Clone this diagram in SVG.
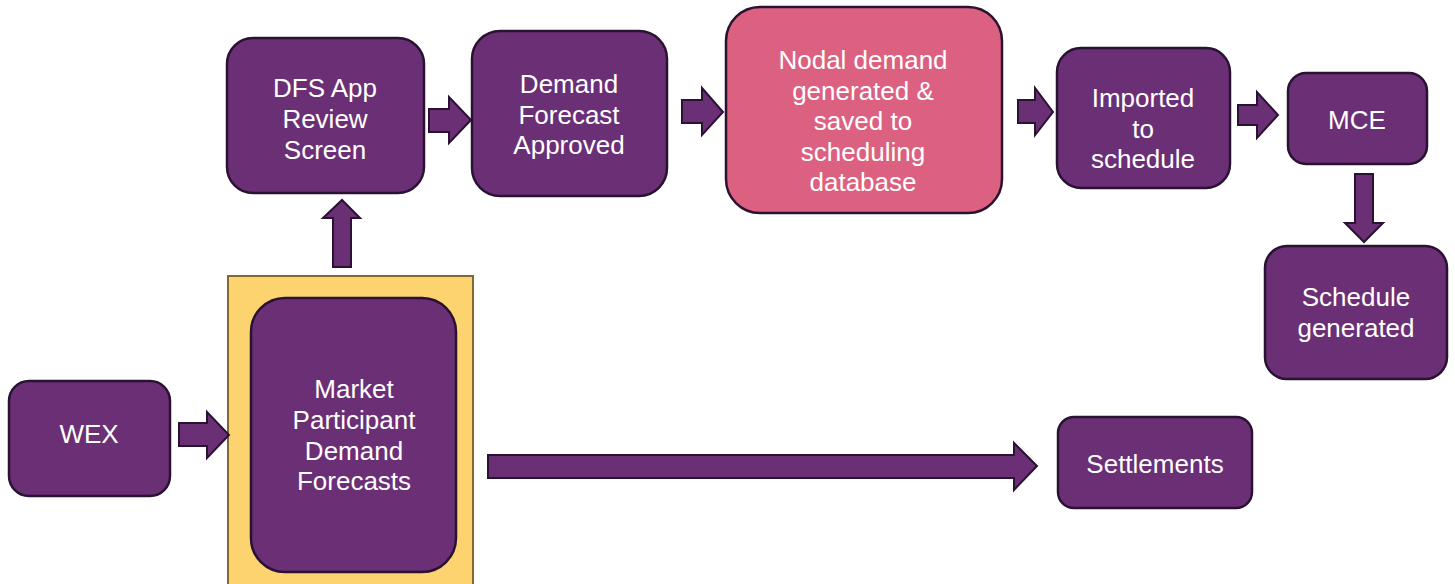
<svg xmlns="http://www.w3.org/2000/svg" width="1455" height="584" viewBox="0 0 1455 584">
<style>
.box{fill:#6B2F76;stroke:#2A1233;stroke-width:2.5}
.pink{fill:#DC6180;stroke:#2A1233;stroke-width:2.5}
.arr{fill:#6B2F76;stroke:#2A1233;stroke-width:2}
.t{font-family:"Liberation Sans",Arial,sans-serif;font-size:26px;fill:#ffffff;text-anchor:middle}
</style>
<rect x="0" y="0" width="1455" height="584" fill="#ffffff"/>
<g id="mp-frame"><rect x="228" y="276" width="245" height="312" fill="#FDD36F" stroke="#7F6A35" stroke-width="2"/></g>
<g id="connectors">
<polygon class="arr" points="429,109 449,109 449,97 471,120 449,143 449,132 429,132"/>
<polygon class="arr" points="682,100 702,100 702,88 723,112 702,135 702,123 682,123"/>
<polygon class="arr" points="1018,100 1035,100 1035,88 1053,112 1035,135 1035,123 1018,123"/>
<polygon class="arr" points="1238,105 1257,105 1257,92 1278,115 1257,138 1257,125 1238,125"/>
<polygon class="arr" points="1355,174 1373,174 1373,223 1383,223 1364,242 1345,223 1355,223"/>
<polygon class="arr" points="333,267 351,267 351,218 360,218 342,200 323,218 333,218"/>
<polygon class="arr" points="179,423 207,423 207,412 229,435 207,458 207,446 179,446"/>
<polygon class="arr" points="488,455 1014,455 1014,443 1037,466 1014,490 1014,478 488,478"/>
</g>
<g id="dfs-app"><rect class="box" x="227" y="38" width="197" height="155" rx="26"/>
<text class="t" x="325" y="97">DFS App</text><text class="t" x="325" y="128">Review</text><text class="t" x="325" y="159">Screen</text></g>
<g id="demand-forecast-approved"><rect class="box" x="472" y="31" width="195" height="165" rx="28"/>
<text class="t" x="569" y="93">Demand</text><text class="t" x="569" y="124">Forecast</text><text class="t" x="569" y="154">Approved</text></g>
<g id="nodal-demand"><rect class="pink" x="726" y="7" width="276" height="206" rx="34"/>
<text class="t" x="863" y="69">Nodal demand</text><text class="t" x="863" y="100">generated &amp;</text><text class="t" x="863" y="130">saved to</text><text class="t" x="863" y="161">scheduling</text><text class="t" x="863" y="191">database</text></g>
<g id="imported"><rect class="box" x="1057" y="48" width="173" height="140" rx="24"/>
<text class="t" x="1143" y="107">Imported</text><text class="t" x="1143" y="138">to</text><text class="t" x="1143" y="168">schedule</text></g>
<g id="mce"><rect class="box" x="1288" y="73" width="139" height="91" rx="18"/>
<text class="t" x="1357" y="129">MCE</text></g>
<g id="schedule-generated"><rect class="box" x="1265" y="246" width="182" height="133" rx="22"/>
<text class="t" x="1356" y="306">Schedule</text><text class="t" x="1356" y="337">generated</text></g>
<g id="wex"><rect class="box" x="9" y="381" width="161" height="115" rx="20"/>
<text class="t" x="89" y="443">WEX</text></g>
<g id="market-participant"><rect class="box" x="251" y="298" width="205" height="274" rx="34"/>
<text class="t" x="354" y="398">Market</text><text class="t" x="354" y="429">Participant</text><text class="t" x="354" y="460">Demand</text><text class="t" x="354" y="490">Forecasts</text></g>
<g id="settlements"><rect class="box" x="1058" y="417" width="194" height="91" rx="16"/>
<text class="t" x="1155" y="473">Settlements</text></g>
</svg>
